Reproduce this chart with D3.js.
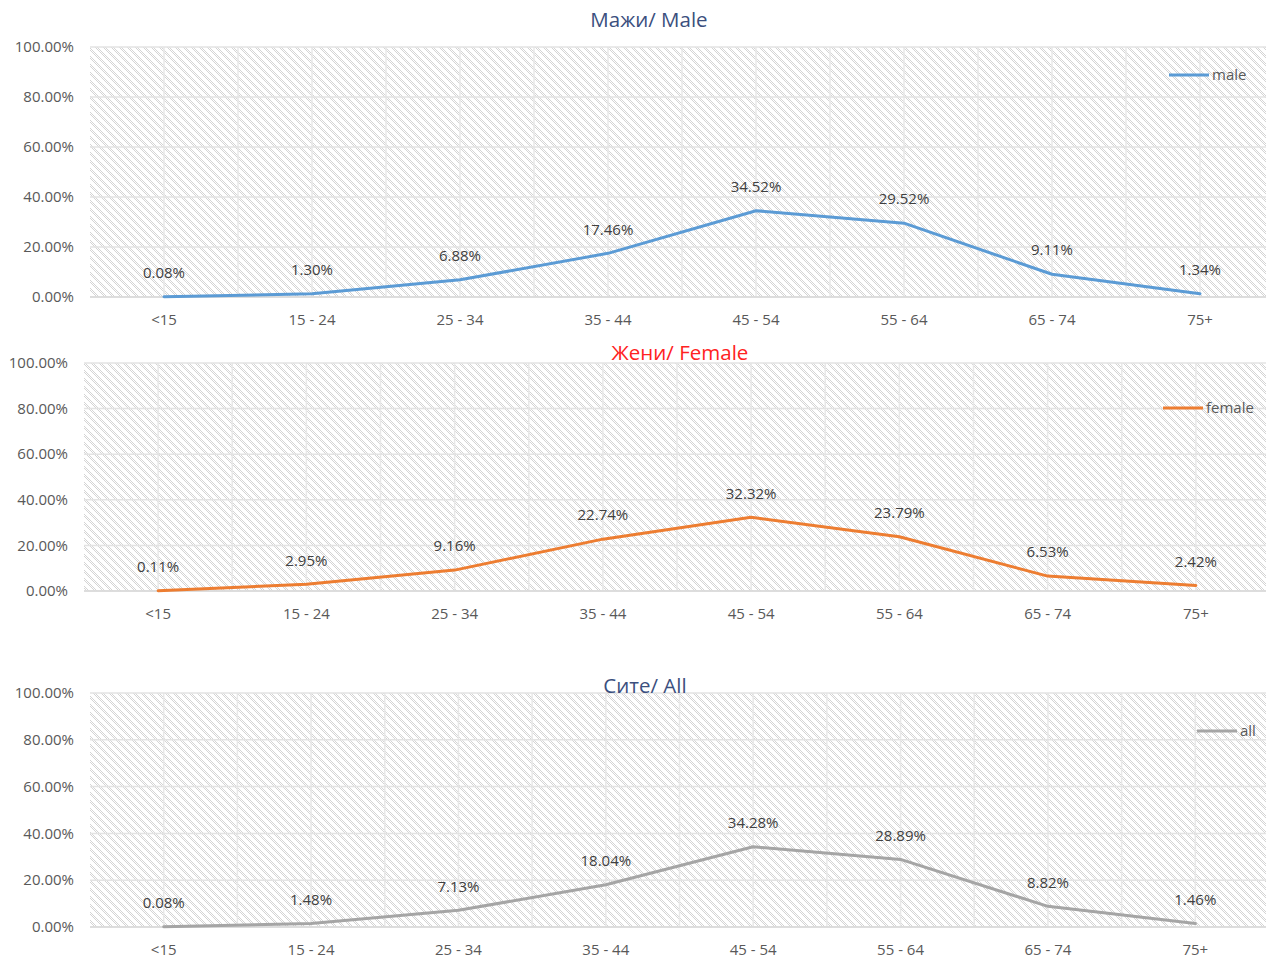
<!DOCTYPE html>
<html><head><meta charset="utf-8">
<script src="https://cdn.jsdelivr.net/npm/d3@7"></script>
<style>body{margin:0;background:#fff}svg{display:block}</style>
</head><body>
<svg id="c" width="1266" height="959"></svg>
<script>
const categories = ["<15","15 - 24","25 - 34","35 - 44","45 - 54","55 - 64","65 - 74","75+"];
const maleValues = [0.08,1.30,6.88,17.46,34.52,29.52,9.11,1.34];
const femaleValues = [0.11,2.95,9.16,22.74,32.32,23.79,6.53,2.42];
const allValues = [0.08,1.48,7.13,18.04,34.28,28.89,8.82,1.46];
const yTicks = [0,20,40,60,80,100];
const titles = ["Мажи/ Male","Жени/ Female","Сите/ All"];
const seriesNames = ["male","female","all"];

const svg = d3.select("#c");
const defs = svg.append("defs");
const pat = defs.append("pattern").attr("id","hatch").attr("patternUnits","userSpaceOnUse")
  .attr("width",8).attr("height",8);
pat.append("rect").attr("width",8).attr("height",8).attr("fill","#fff");
for (let y=0;y<8;y++){
  for (const dx of [0,2]){
    const x=(y+dx)%8;
    pat.append("rect").attr("x",x).attr("y",y).attr("width",1).attr("height",1).attr("fill","#d4d4d4");
  }
}

const font = "'Open Sans', 'Noto Sans', sans-serif";
const fs = 15;
const panels = [
  {vals:maleValues,color:"#5B9BD5",title:titles[0],tColor:"#3B4F7E",tx:649,ty:20,
   left:90,right:1274,top:47,bottom:297,yLabX:74,xLabY:320,leg:[1169,75]},
  {vals:femaleValues,color:"#ED7D31",title:titles[1],tColor:"#FF2222",tx:680,ty:353,
   left:84,right:1270,top:363,bottom:591,yLabX:68,xLabY:614,leg:[1163,408]},
  {vals:allValues,color:"#A5A5A5",title:titles[2],tColor:"#3B4F7E",tx:645,ty:686,
   left:90,right:1269,top:693,bottom:927,yLabX:74,xLabY:950,leg:[1197,731]}
];

panels.forEach((p,i)=>{
  const g = svg.append("g");
  const x = d3.scalePoint().domain(categories).range([p.left,p.right]).padding(0.5);
  const y = d3.scaleLinear().domain([0,100]).range([p.bottom,p.top]);
  const step = x.step();
  g.append("rect").attr("x",p.left).attr("y",p.top).attr("width",p.right-p.left).attr("height",p.bottom-p.top).attr("fill","url(#hatch)");
  const vx = [];
  categories.forEach(c=>{vx.push(x(c)); vx.push(x(c)+step/2);});
  g.selectAll(".vg").data(vx).join("line").attr("x1",d=>d).attr("x2",d=>d)
    .attr("y1",p.top).attr("y2",p.bottom).attr("stroke","#e8e8e8").attr("stroke-width",1.5);
  g.selectAll(".hg").data(yTicks).join("line").attr("x1",p.left).attr("x2",p.right)
    .attr("y1",d=>y(d)).attr("y2",d=>y(d)).attr("stroke","#e3e3e3").attr("stroke-width",1.5);
  g.append("line").attr("x1",p.left).attr("x2",p.right).attr("y1",y(0)).attr("y2",y(0)).attr("stroke","#d9d9d9").attr("stroke-width",1.5);
  g.selectAll(".yl").data(yTicks).join("text").attr("x",p.yLabX).attr("y",d=>y(d)).attr("dy","0.35em")
    .attr("text-anchor","end").attr("font-family",font).attr("font-size",fs).attr("fill","#595959")
    .text(d=>d.toFixed(2)+"%");
  g.selectAll(".xl").data(categories).join("text").attr("x",d=>x(d)).attr("y",p.xLabY).attr("dy","0.35em")
    .attr("text-anchor","middle").attr("font-family",font).attr("font-size",fs).attr("fill","#595959").text(d=>d);
  const line = d3.line().x((d,j)=>x(categories[j])).y(d=>y(d));
  g.append("path").datum(p.vals).attr("d",line).attr("fill","none").attr("stroke",p.color)
    .attr("stroke-width",3).attr("stroke-linejoin","round").attr("stroke-linecap","round");
  g.selectAll(".dl").data(p.vals).join("text").attr("x",(d,j)=>x(categories[j])).attr("y",d=>y(d)-24).attr("dy","0.35em")
    .attr("text-anchor","middle").attr("font-family",font).attr("font-size",fs).attr("fill","#404040")
    .text(d=>d.toFixed(2)+"%");
  g.append("text").attr("x",p.tx).attr("y",p.ty).attr("dy","0.35em").attr("text-anchor","middle")
    .attr("font-family",font).attr("font-size",20.5).attr("fill",p.tColor).text(p.title);
  g.append("line").attr("x1",p.leg[0]).attr("x2",p.leg[0]+40).attr("y1",p.leg[1]).attr("y2",p.leg[1])
    .attr("stroke",p.color).attr("stroke-width",3);
  g.append("text").attr("x",p.leg[0]+43).attr("y",p.leg[1]).attr("dy","0.35em").attr("font-family",font)
    .attr("font-size",fs).attr("fill","#595959").text(seriesNames[i]);
});
</script>
</body></html>
